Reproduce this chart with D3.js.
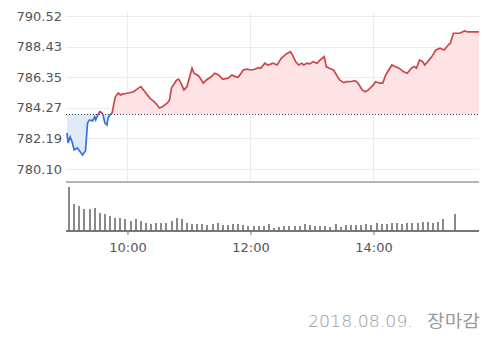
<!DOCTYPE html>
<meta charset="utf-8">
<style>
  body { margin: 0; background: #fff; }
</style>

<!-- Load d3.js -->
<script src="https://cdnjs.cloudflare.com/ajax/libs/d3/7.8.5/d3.min.js"></script>

<div id="my_dataviz"></div>

<script>

// price ticks shown on the left
var yTicks = [780.10, 782.19, 784.27, 786.35, 788.43, 790.52];
var xTicks = ["10:00", "12:00", "14:00"];

// previous close (dotted line)
var baseValue = 783.84;

// intraday price
var priceTimes = ["09:01","09:02","09:04","09:06","09:08","09:11","09:14","09:16","09:19","09:21",
  "09:23","09:26","09:28","09:29","09:31","09:33","09:35","09:36","09:38","09:40",
  "09:41","09:43","09:45","09:48","09:51","09:53","09:56","10:01","10:06","10:11",
  "10:13","10:17","10:22","10:26","10:29","10:31","10:34","10:39","10:41","10:43",
  "10:48","10:50","10:53","10:55","10:58","11:03","11:05","11:08","11:10","11:14",
  "11:17","11:22","11:25","11:29","11:33","11:38","11:42","11:45","11:48","11:53",
  "11:56","12:01","12:04","12:08","12:10","12:14","12:17","12:22","12:26","12:30",
  "12:35","12:39","12:41","12:44","12:47","12:50","12:52","12:55","12:58","13:01",
  "13:05","13:08","13:12","13:14","13:17","13:21","13:24","13:27","13:31","13:34",
  "13:37","13:42","13:45","13:49","13:52","13:55","14:00","14:02","14:06","14:09",
  "14:12","14:18","14:21","14:25","14:29","14:33","14:37","14:40","14:42","14:45",
  "14:48","14:50","14:53","14:57","15:01","15:05","15:09","15:13","15:15","15:18",
  "15:24","15:29","15:32","15:43"];
var prices = [782.55,781.87,782.28,781.94,781.39,781.53,781.26,781.05,781.32,783.23,
  783.44,783.37,783.64,783.44,783.78,784.00,783.93,783.78,783.23,783.09,
  783.57,783.78,783.91,785.00,785.27,785.14,785.21,785.27,785.36,785.62,
  785.70,785.36,784.91,784.68,784.46,784.25,784.34,784.59,784.80,785.62,
  786.16,786.21,785.82,785.48,785.70,786.96,786.62,786.50,786.39,785.94,
  786.16,786.39,786.62,786.50,786.21,786.28,786.50,786.39,786.34,786.84,
  786.89,786.84,786.89,787.00,786.96,787.30,787.18,787.30,787.18,787.64,
  787.93,788.09,787.86,787.41,787.18,787.30,787.18,787.30,787.25,787.41,
  787.30,787.52,787.75,787.07,786.96,786.84,786.50,786.16,785.98,786.04,
  786.04,786.11,785.94,785.48,785.36,785.48,785.82,786.04,785.94,785.94,
  786.50,787.18,787.07,786.96,786.73,786.62,786.96,787.07,786.96,787.52,
  787.41,787.18,787.41,787.75,788.20,788.32,788.20,788.54,788.66,789.34,
  789.34,789.50,789.43,789.43];

// 5 minute volume bars from 09:00, then the closing auction bar
var volumes = [43,26,24,21,21,22,17,16,14,12,12,11,9,11,9,7,6,7,7,7,9,12,11,7,6,6,6,
  5,6,7,5,5,6,6,5,4,4,4,4,6,2,3,4,4,4,4,6,5,4,4,4,3,6,3,5,
  5,5,5,6,5,7,6,6,7,7,6,7,7,7,8,8,7,8,11];
var closeTime = "15:20";
var closeVolume = 16;

var footDate = "2018.08.09.";
var footState = "장마감";

// set the dimensions
var width = 497, height = 348;
var left = 66, right = 479;
var priceTop = 13, priceBottom = 182;
var volTop = 187, volBottom = 230;

var parser = d3.timeParse("%H:%M");

var svg = d3.select("#my_dataviz")
  .append("svg")
    .attr("width", width)
    .attr("height", height);

// scales
var x = d3.scaleTime()
  .domain([parser("09:00"), parser("15:43")])
  .range([left, right]);
var y = d3.scaleLinear()
  .domain([779.21, 790.72])
  .range([priceBottom, priceTop]);
var yVol = d3.scaleLinear()
  .domain([0, d3.max(volumes)])
  .range([volBottom, volTop]);

var data = priceTimes.map(function(t, i) { return {date: parser(t), value: prices[i]}; });

var volData = volumes.map(function(v, i) {
  return {date: d3.timeMinute.offset(parser("09:03"), 5 * i), value: v};
});
volData.push({date: parser(closeTime), value: closeVolume});

// grid lines
svg.append("g")
  .selectAll("line")
  .data(yTicks)
  .enter()
  .append("line")
    .attr("x1", left).attr("x2", right)
    .attr("y1", function(d) { return Math.round(y(d)) + 0.5; })
    .attr("y2", function(d) { return Math.round(y(d)) + 0.5; })
    .style("stroke", "#ececec");

svg.append("g")
  .selectAll("line")
  .data(xTicks)
  .enter()
  .append("line")
    .attr("x1", function(d) { return Math.round(x(parser(d))) + 0.5; })
    .attr("x2", function(d) { return Math.round(x(parser(d))) + 0.5; })
    .attr("y1", priceTop).attr("y2", priceBottom)
    .style("stroke", "#ececec");

// clip regions above / below previous close
var defs = svg.append("defs");
defs.append("clipPath").attr("id", "clipUp")
  .append("rect")
    .attr("x", 0).attr("y", 0)
    .attr("width", width).attr("height", y(baseValue));
defs.append("clipPath").attr("id", "clipDown")
  .append("rect")
    .attr("x", 0).attr("y", y(baseValue))
    .attr("width", width).attr("height", height);

var area = d3.area()
  .x(function(d) { return x(d.date); })
  .y0(y(baseValue))
  .y1(function(d) { return y(d.value); });

var valueline = d3.line()
  .x(function(d) { return x(d.date); })
  .y(function(d) { return y(d.value); });

svg.append("path").datum(data)
  .attr("d", area)
  .attr("clip-path", "url(#clipUp)")
  .style("fill", "#fde3e4");
svg.append("path").datum(data)
  .attr("d", area)
  .attr("clip-path", "url(#clipDown)")
  .style("fill", "#e1eaf9");

// previous close dotted line
svg.append("line")
  .attr("x1", left).attr("x2", right)
  .attr("y1", Math.round(y(baseValue)) + 0.5)
  .attr("y2", Math.round(y(baseValue)) + 0.5)
  .style("stroke", "#444")
  .style("stroke-dasharray", "1,2");

svg.append("path").datum(data)
  .attr("d", valueline)
  .attr("clip-path", "url(#clipUp)")
  .style("fill", "none")
  .style("stroke", "#cc474d")
  .style("stroke-width", 1.7);
svg.append("path").datum(data)
  .attr("d", valueline)
  .attr("clip-path", "url(#clipDown)")
  .style("fill", "none")
  .style("stroke", "#3b6fe2")
  .style("stroke-width", 1.7);

// y labels
svg.append("g")
  .selectAll("text")
  .data(yTicks)
  .enter()
  .append("text")
    .attr("x", 62)
    .attr("y", function(d) { return y(d); })
    .attr("dy", "0.36em")
    .attr("text-anchor", "end")
    .style("font-family", "DejaVu Sans, Verdana, sans-serif")
    .style("font-size", "13px")
    .style("fill", "#555")
    .text(function(d) { return d.toFixed(2); });

// separator between price and volume
svg.append("line")
  .attr("x1", left).attr("x2", right)
  .attr("y1", priceBottom).attr("y2", priceBottom)
  .style("stroke", "#b5b5b5")
  .style("stroke-width", 2);

// volume bars
svg.append("g")
  .selectAll("rect")
  .data(volData)
  .enter()
  .append("rect")
    .attr("x", function(d) { return Math.round(x(d.date)) - 1; })
    .attr("y", function(d) { return yVol(d.value); })
    .attr("width", 2)
    .attr("height", function(d) { return volBottom - yVol(d.value); })
    .style("fill", "#8a8a8a");

// x axis
var xAxis = d3.axisBottom(x)
  .tickValues(xTicks.map(parser))
  .tickFormat(d3.timeFormat("%H:%M"))
  .tickSize(5)
  .tickPadding(8);

var gx = svg.append("g")
  .attr("transform", "translate(0," + volBottom + ")")
  .call(xAxis);
gx.select(".domain").remove();
gx.selectAll(".tick line").style("stroke", "#777");
gx.selectAll("text")
  .style("font-family", "DejaVu Sans, Verdana, sans-serif")
  .style("font-size", "13px")
  .style("fill", "#555");

svg.append("line")
  .attr("x1", left).attr("x2", right)
  .attr("y1", volBottom + 1).attr("y2", volBottom + 1)
  .style("stroke", "#777")
  .style("stroke-width", 2);

// footer
svg.append("text")
  .attr("x", 308)
  .attr("y", 327)
  .attr("textLength", 105)
  .attr("lengthAdjust", "spacingAndGlyphs")
  .style("font-family", "DejaVu Sans, sans-serif")
  .style("font-size", "15px")
  .style("font-weight", "300")
  .style("fill", "#9a9a9a")
  .text(footDate);

svg.append("text")
  .attr("x", 427)
  .attr("y", 327)
  .attr("textLength", 53)
  .attr("lengthAdjust", "spacingAndGlyphs")
  .style("font-family", "Noto Sans CJK KR, sans-serif")
  .style("font-size", "17px")
  .style("fill", "#9a9a9a")
  .text(footState);

</script>
